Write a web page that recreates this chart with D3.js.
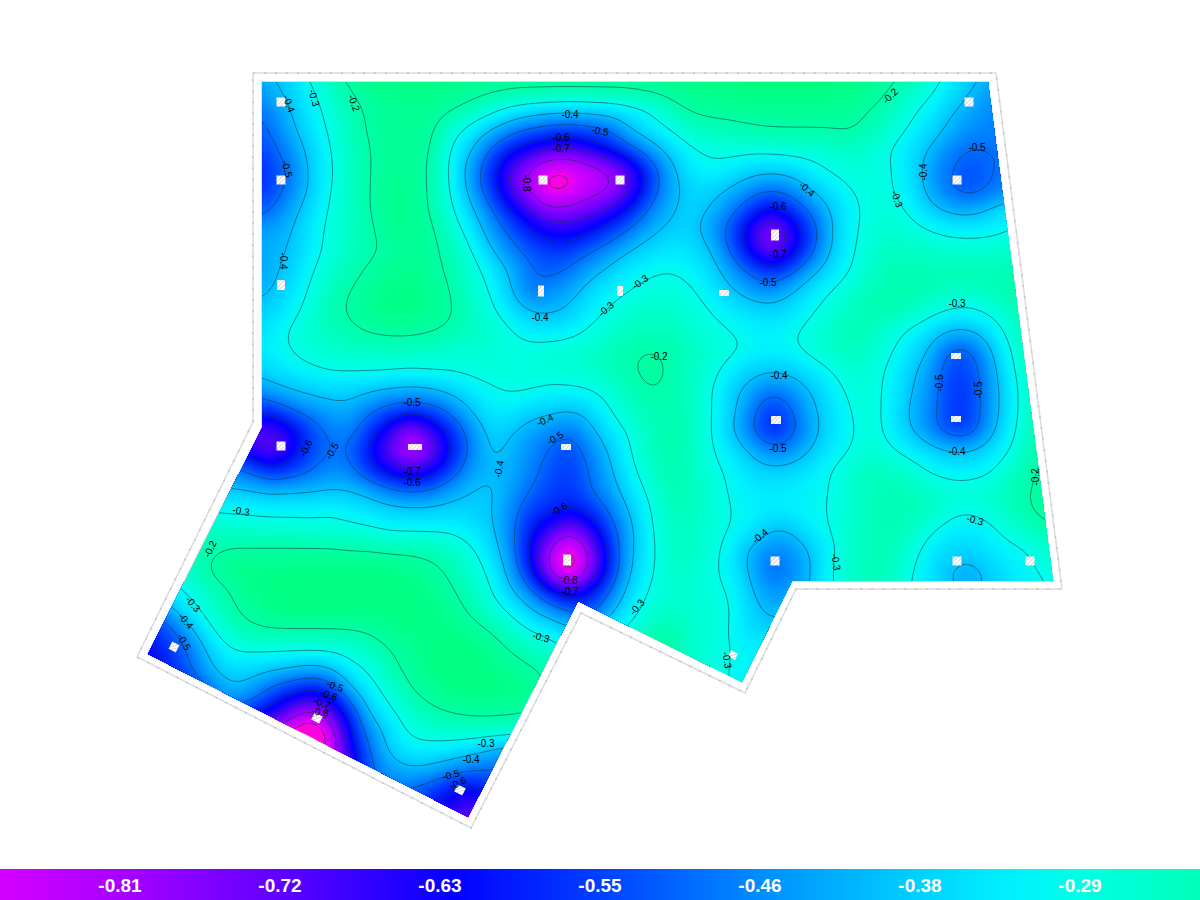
<!DOCTYPE html>
<html>
<head>
<meta charset="utf-8">
<script src="https://cdn.jsdelivr.net/npm/d3@7"></script>
<style>
  html, body { margin: 0; padding: 0; background: #fff; }
  svg { display: block; }
  .levelLabel { font-family: "Liberation Sans", Arial, sans-serif; font-size: 10px; fill: #000; text-anchor: middle; dominant-baseline: central; }
  .legendLabel { font-family: "Liberation Sans", Arial, sans-serif; font-size: 19px; font-weight: bold; fill: #fff; text-anchor: middle; }
</style>
</head>
<body>
<div id="map"></div>
<script>
let width = 1200
let height = 900

// measured field, magnitude in hundredths (all values are negative), read off the picture
// one row every 20px from y=70, rowStart = first column of the row (column i sits at x=130+20i)
// cells left and right of a row repeat its end values, they are outside the outline anyway
var rowStart = [6,6,6,6,6,6,6,6,6,6,6,6,6,6,6,6,6,6,6,5,5,4,4,3,3,2,1,1,0,0,0,3,5,7,9,11,13,15,15];
var fieldRows = [
  [44,40,36,28,22,17,15,14,14,14,14,15,15,16,16,16,16,16,16,16,15,15,14,14,13,13,13,13,13,13,14,15,18,21,26,31,37,41,44],
  [46,42,38,31,25,20,17,15,15,15,16,17,18,19,19,19,19,19,19,19,18,17,16,15,15,14,14,14,14,14,15,17,20,24,28,34,40,44,46],
  [50,47,40,34,27,22,19,17,17,17,19,22,27,32,35,37,38,37,36,33,30,23,19,18,18,17,17,17,17,17,18,20,23,28,33,39,43,47,48],
  [54,50,42,35,29,23,19,17,17,18,26,33,40,47,52,54,55,53,50,40,34,30,25,23,22,21,20,20,20,20,19,22,26,31,36,42,46,47,47],
  [57,53,46,38,30,24,20,17,17,19,30,39,51,60,65,70,72,67,61,53,45,37,31,29,28,28,28,27,27,26,25,27,30,35,41,47,51,50,50],
  [59,56,49,39,31,24,20,17,17,20,31,44,57,71,82,92,91,85,81,71,56,43,34,31,33,37,38,37,33,29,27,27,29,35,44,50,54,50,49],
  [59,55,48,39,30,24,20,16,16,20,30,42,56,70,82,94,91,84,82,71,56,43,37,37,41,46,50,47,40,35,30,28,29,34,43,50,54,50,47],
  [53,51,43,36,29,24,20,16,16,20,28,38,48,60,70,79,77,74,68,60,48,41,37,40,47,56,64,58,49,40,32,28,27,31,38,42,43,39,34,32,30],
  [46,43,41,34,28,24,21,17,16,18,25,33,44,52,60,65,66,62,56,49,42,38,37,44,53,67,80,69,56,41,32,27,26,27,30,32,33,32,30,28,27],
  [44,42,40,33,28,24,21,19,17,18,22,29,39,47,53,56,56,51,46,40,36,34,35,39,51,64,77,67,54,40,31,26,24,24,25,26,26,26,25,24,23],
  [44,42,38,31,26,22,19,17,16,18,21,26,33,41,49,53,49,43,38,33,31,30,32,36,44,52,58,54,43,36,30,25,22,22,22,22,22,22,22,21,20],
  [42,41,36,29,23,20,17,15,15,16,20,25,30,39,50,46,43,37,33,30,28,27,29,33,39,44,47,41,35,30,26,23,21,21,22,24,24,23,21,20,19],
  [39,37,33,27,22,19,16,15,15,16,19,24,28,35,41,42,39,33,29,26,25,25,27,30,33,36,37,36,31,27,24,21,21,23,27,30,31,28,24,20,19,18],
  [37,34,29,26,23,21,19,18,18,19,21,23,25,29,33,34,33,29,26,24,23,24,26,28,30,32,33,31,28,25,22,23,27,31,35,40,40,35,27,21,19,18],
  [34,32,30,27,26,25,24,24,24,25,26,27,27,28,28,27,26,25,23,21,20,21,23,26,28,31,32,31,28,25,23,25,29,34,41,52,52,41,30,22,19,18],
  [38,36,33,31,29,29,29,29,30,29,29,28,27,28,28,27,26,25,23,21,17,21,24,27,33,37,39,38,34,30,26,27,31,38,44,55,55,44,32,23,20,19],
  [46,43,40,38,37,37,39,41,42,41,38,34,31,29,29,31,31,30,27,23,20,21,24,29,37,43,49,46,40,34,28,27,32,39,46,56,56,45,34,24,20,19],
  [58,57,50,46,43,42,49,53,56,54,48,40,33,33,37,38,40,37,30,24,22,21,23,29,37,47,57,52,42,36,30,26,33,41,47,56,56,45,34,24,20,19],
  [68,72,66,55,48,47,56,67,80,69,58,47,37,39,43,46,49,42,34,29,23,21,23,29,39,49,60,54,44,36,31,27,32,40,47,56,56,43,33,23,20,19],
  [60,68,75,66,55,50,50,62,74,86,77,62,49,38,41,46,51,55,47,39,30,23,21,23,29,34,41,48,47,40,34,30,26,29,33,37,40,40,36,30,22,19,18],
  [48,51,59,56,51,46,48,58,65,70,66,56,45,41,42,47,53,56,50,41,32,25,21,23,28,31,36,38,37,34,30,26,23,24,26,31,33,33,31,25,21,18,18],
  [38,39,40,42,41,41,40,40,43,49,51,50,44,40,38,44,50,55,57,50,44,35,28,22,23,26,31,33,34,33,32,30,26,23,22,23,25,27,27,26,23,20,17,17],
  [30,31,31,32,32,32,31,33,35,37,38,38,37,37,39,46,55,58,61,57,49,39,30,23,23,26,30,32,33,33,31,30,26,23,22,22,23,28,29,27,23,20,17,17],
  [24,25,25,26,26,26,27,27,28,29,31,31,31,31,34,38,47,60,68,78,68,54,42,31,24,24,27,30,33,40,40,33,30,25,23,22,24,29,33,34,32,27,24,21,20],
  [24,21,19,19,19,19,19,19,20,20,21,21,22,24,28,35,46,62,82,96,78,58,41,32,24,24,27,33,42,47,46,40,32,25,23,22,27,33,37,37,34,32,30,25,22],
  [28,24,19,16,15,15,15,14,14,14,14,15,16,18,21,26,31,43,60,83,100,79,58,40,31,25,25,28,33,41,51,48,41,30,25,22,23,29,35,40,43,38,34,31,28,24],
  [36,32,28,23,20,16,15,14,14,14,14,14,14,15,16,19,23,29,39,48,62,69,62,51,36,29,26,26,28,30,39,46,45,40,31,25,23,25,30,35,40,43,39,35,33,30,28],
  [52,42,33,26,21,18,15,14,14,14,14,14,14,14,15,17,21,26,31,39,45,51,55,42,33,27,25,26,27,29,37,42,40,38,30],
  [60,58,53,42,31,24,21,20,20,20,20,20,19,16,15,15,15,17,20,25,30,33,38,40,33,28,23,21,25,27,30,36,38],
  [66,62,57,49,38,30,29,29,29,29,29,27,24,20,17,15,14,14,16,20,23,26,30,30,28,22,18,18,26,27,30,32],
  [70,65,58,51,41,36,37,39,41,44,41,33,29,22,18,15,14,14,15,17,19,21,25,25,25,25,25,26,27,28,30,33],
  [60,50,41,43,52,57,61,58,41,33,27,20,17,15,14,14,15,16,22,25,25,25,25,25,26,27,28,30,33],
  [50,55,62,72,80,71,57,37,31,25,21,19,18,18,18,19],
  [78,90,102,87,60,46,36,28,26,25,24,24,25,26],
  [102,90,66,49,38,33,33,34,37,41,44,45],
  [70,52,44,41,42,46,49,50,52,52],
  [50,50,55,62,65,58,55,55],
  [60,65,72,65,60],
  [62,70,78,70,62]
];
var columnCount = 48;
var rowCount = fieldRows.length;

var contourLevels = [-0.9, -0.8, -0.7, -0.6, -0.5, -0.4, -0.3, -0.2];

var colorValues = [-0.905, -0.875, -0.81, -0.72, -0.63, -0.55, -0.46, -0.38, -0.33, -0.29, -0.226, -0.14];
var colorStops = ["#ff00e0", "#d400ff", "#a800ff", "#5c00ff", "#0400ff", "#0040ff", "#0090ff", "#00d0ff", "#00f0ff", "#00ffe6", "#00ffb8", "#00ff80"];

var legendTicks = ["-0.81", "-0.72", "-0.63", "-0.55", "-0.46", "-0.38", "-0.29"];

// outline of the surface, plan coordinates
var outlineX = [262, 988, 1053, 792, 742, 578, 468, 148, 262];
var outlineY = [82, 82, 581, 581, 682, 601, 817, 654, 428];
var frameX = [253, 996, 1062, 796, 745, 581, 471, 137, 253];
var frameY = [73, 73, 589, 589, 693, 613, 828, 657, 422];

// measuring points
var pointX = [281, 281, 281, 543, 620, 541, 620, 724, 775, 969, 957, 956, 956, 776, 281, 415, 566, 567, 775, 957, 1030, 733, 174, 317, 460];
var pointY = [102, 180, 285, 180, 180, 291, 291, 293, 235, 102, 180, 356, 419, 420, 446, 447, 447, 560, 561, 561, 561, 655, 647, 718, 790];
var pointW = [9, 9, 8, 9, 9, 6, 6, 10, 8, 9, 9, 10, 10, 10, 9, 14, 10, 8, 9, 9, 9, 8, 8, 9, 9];
var pointH = [9, 9, 10, 9, 9, 11, 10, 6, 11, 9, 9, 6, 6, 8, 9, 6, 6, 11, 9, 9, 9, 7, 8, 8, 8];
var pointTilt = [0, 0, 0, 0, 0, 0, 0, 0, 0, 0, 0, 0, 0, 0, 0, 0, 0, 0, 0, 0, 0, 27, 27, 27, 27];

// labels on the contour lines
var labelText = ["-0.4","-0.3","-0.2","-0.5","-0.4","-0.4","-0.5","-0.6","-0.7","-0.8","-0.4","-0.6","-0.7","-0.5","-0.2","-0.4","-0.3","-0.5","-0.4","-0.3","-0.3","-0.2","-0.3","-0.5","-0.5","-0.4","-0.4","-0.5","-0.2","-0.3","-0.4","-0.3","-0.3","-0.5","-0.7","-0.6","-0.6","-0.5","-0.4","-0.4","-0.5","-0.6","-0.8","-0.7","-0.3","-0.3","-0.3","-0.2","-0.3","-0.4","-0.5","-0.5","-0.6","-0.7","-0.8","-0.3","-0.4","-0.5","-0.6"];
var labelX = [289,314,354,287,283,570,600,561,561,526,807,778,778,768,890,923,897,977,540,606,640,659,957,939,978,957,779,778,1035,975,760,836,727,412,412,412,306,332,499,545,555,559,569,570,637,541,241,210,193,186,184,335,329,322,320,486,471,451,458];
var labelY = [104,98,103,169,261,114,131,137,148,183,189,206,254,282,96,172,199,147,317,309,282,356,303,383,390,451,375,448,477,520,536,562,660,402,471,482,448,451,469,420,438,509,580,591,607,637,511,549,604,621,642,686,695,703,712,743,759,775,783];
var labelTilt = [70,75,70,75,90,0,10,0,0,90,40,0,0,0,-45,-90,70,0,0,-40,-35,0,0,-90,-90,0,0,0,-90,15,-40,80,80,0,0,0,-65,-60,-80,-25,-30,-30,0,0,-50,15,10,-65,50,50,60,20,20,20,10,0,0,-15,-25];

var svg = d3
    .select("#map")
    .append("svg")
    .attr("width", width)
    .attr("height", height);

var planX = d3.scaleLinear().domain([0, 1200]).range([0, width]);
var planY = d3.scaleLinear().domain([0, 900]).range([0, height]);

var colorScale = d3.scaleLinear().domain(colorValues).range(colorStops).clamp(true);

// rows padded to full width, signed values
var fieldGrid = fieldRows.map(function(row, j) {
    return d3.range(columnCount).map(function(i) {
        var k = Math.max(0, Math.min(row.length - 1, i - rowStart[j]));
        return -row[k] / 100;
    });
});

// drawing grid: the cells run through a d3 basis spline so the contours come out round
var fine = 5;
function splineRow(row) {
    var spline = d3.interpolateBasis(row);
    return d3.range((row.length - 1) * fine + 1).map(function(k) {
        return spline(k / ((row.length - 1) * fine));
    });
}
var wideRows = fieldGrid.map(splineRow);
var fineColumns = wideRows[0].map(function(d, i) {
    return splineRow(wideRows.map(function(row) { return row[i]; }));
});
var fineWidth = fineColumns.length;
var fineHeight = fineColumns[0].length;
var fineValues = [];
d3.range(fineHeight).forEach(function(j) {
    d3.range(fineWidth).forEach(function(i) {
        fineValues.push(fineColumns[i][j]);
    });
});

// d3.contours puts cell i at i + 0.5
var gridX = d3.scaleLinear().domain([0.5, fineWidth - 0.5]).range([planX(130), planX(130 + 20 * (columnCount - 1))]);
var gridY = d3.scaleLinear().domain([0.5, fineHeight - 0.5]).range([planY(70), planY(70 + 20 * (rowCount - 1))]);

var gridPath = d3.geoPath(d3.geoTransform({
    point: function(x, y) {
        this.stream.point(gridX(x), gridY(y));
    }
}));

function outlinePoints(xs, ys) {
    return xs.map(function(x, i) {
        return planX(x) + "," + planY(ys[i]);
    }).join(" ");
}

var defs = svg.append("defs");
defs.append("clipPath")
    .attr("id", "surface")
    .append("polygon")
    .attr("points", outlinePoints(outlineX, outlineY));

var hatch = defs.append("pattern")
    .attr("id", "hatch")
    .attr("width", 3)
    .attr("height", 3)
    .attr("patternUnits", "userSpaceOnUse")
    .attr("patternTransform", "rotate(-45)");
hatch.append("rect").attr("width", 3).attr("height", 3).attr("fill", "#fff");
hatch.append("rect").attr("width", 3).attr("height", 1).attr("fill", "#d4d4d4");

// frame around the surface
svg.append("polygon")
    .attr("points", outlinePoints(frameX, frameY))
    .attr("fill", "#fff")
    .attr("stroke", "#dcdcdc")
    .attr("stroke-width", 1.5);
svg.append("polygon")
    .attr("points", outlinePoints(frameX, frameY))
    .attr("fill", "none")
    .attr("stroke", "#c4c4c4")
    .attr("stroke-width", 1.5)
    .attr("stroke-dasharray", "2 9");
svg.append("polygon")
    .attr("points", outlinePoints(outlineX, outlineY))
    .attr("fill", "none")
    .attr("stroke", "#dedede")
    .attr("stroke-width", 2);

var surface = svg.append("g").attr("clip-path", "url(#surface)");

surface.append("rect")
    .attr("width", width)
    .attr("height", height)
    .attr("fill", colorScale(-0.96));

// colour bands, lowest value first
var bandLevels = d3.range(-0.96, -0.12, 0.005);
var bands = d3.contours()
    .size([fineWidth, fineHeight])
    .thresholds(bandLevels)(fineValues);

surface.selectAll("path.band")
    .data(bands)
    .enter()
    .append("path")
    .attr("class", "band")
    .attr("d", gridPath)
    .attr("fill", function(d) { return colorScale(d.value + 0.0025); });

var lines = d3.contours()
    .size([fineWidth, fineHeight])
    .thresholds(contourLevels)(fineValues);

surface.selectAll("path.level")
    .data(lines)
    .enter()
    .append("path")
    .attr("class", "level")
    .attr("d", gridPath)
    .attr("fill", "none")
    .attr("stroke", "#0c3a44")
    .attr("stroke-opacity", 0.55)
    .attr("stroke-width", 1);

// measuring points
svg.selectAll("rect.point")
    .data(pointX)
    .enter()
    .append("rect")
    .attr("class", "point")
    .attr("x", function(d, i) { return planX(d) - pointW[i] / 2; })
    .attr("y", function(d, i) { return planY(pointY[i]) - pointH[i] / 2; })
    .attr("width", function(d, i) { return pointW[i]; })
    .attr("height", function(d, i) { return pointH[i]; })
    .attr("fill", "url(#hatch)")
    .attr("transform", function(d, i) {
        return "rotate(" + pointTilt[i] + "," + planX(d) + "," + planY(pointY[i]) + ")";
    });

// contour labels
svg.selectAll("text.levelLabel")
    .data(labelText)
    .enter()
    .append("text")
    .attr("class", "levelLabel")
    .attr("transform", function(d, i) {
        return "translate(" + planX(labelX[i]) + "," + planY(labelY[i]) + ")rotate(" + labelTilt[i] + ")";
    })
    .text(function(d) { return d; });

// legend along the bottom
var legendPos = d3.scalePoint().domain(legendTicks).range([120, 1080]);
var legendValue = d3.scaleLinear().domain([120, 1080]).range([-0.81, -0.29]);
var legend = svg.append("g").attr("class", "legend");

legend.selectAll("rect")
    .data(d3.range(0, width))
    .enter()
    .append("rect")
    .attr("x", function(d) { return d; })
    .attr("y", 869)
    .attr("width", 1.5)
    .attr("height", 31)
    .attr("fill", function(d) { return colorScale(legendValue(d)); });

legend.selectAll("text")
    .data(legendTicks)
    .enter()
    .append("text")
    .attr("class", "legendLabel")
    .attr("x", function(d) { return legendPos(d); })
    .attr("y", 892)
    .text(function(d) { return d; });
</script>
</body>
</html>
